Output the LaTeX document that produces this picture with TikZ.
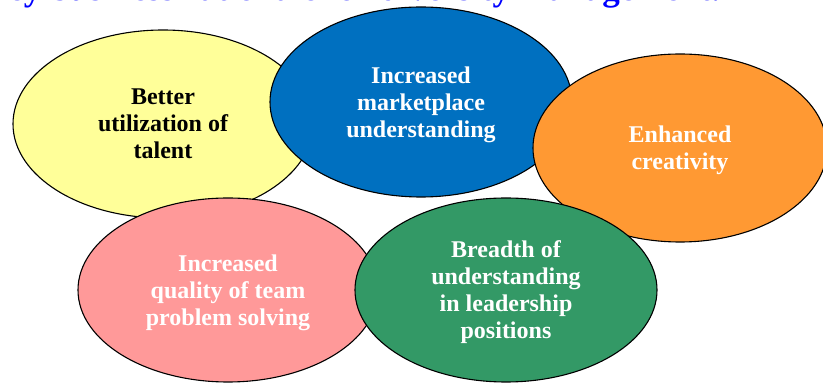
\documentclass[tikz,border=0pt]{standalone}
\usepackage{fontspec}
\setmainfont{Liberation Serif}
\usetikzlibrary{shapes}
\definecolor{ideayellow}{HTML}{FFFF99}
\definecolor{ideablue}{HTML}{0070C0}
\definecolor{ideaorange}{HTML}{FF9933}
\definecolor{ideapink}{HTML}{FF9999}
\definecolor{ideagreen}{HTML}{339966}
\tikzstyle{idea} = [ellipse, minimum width=300pt, minimum height=188pt, draw=black, line width=1.1pt, text centered, align=center, font=\fontsize{24}{27}\selectfont\bfseries, text=white, text depth=-7pt]
\tikzstyle{heading} = [anchor=base west, inner sep=0pt, text=blue, font=\fontsize{35}{40}\selectfont\bfseries]

\begin{document}
\begin{tikzpicture}[x=1pt, y=1pt, node distance=278pt]
            \useasboundingbox (0,0) rectangle (823,383);

            % Heading (cut off by the page)
            \node (head) [heading] at (-19,382.5) {Key business rationale for diversity management.};

            % Top row
            \node (talent) [idea, fill=ideayellow, text=black] at (163,259) {Better\\utilization of\\talent};
            \node (market) [idea, fill=ideablue, right of=talent, xshift=-20pt, yshift=22pt, minimum width=302pt, minimum height=190pt] {Increased\\marketplace\\understanding};
            \node (creat) [idea, fill=ideaorange, right of=market, xshift=-19pt, yshift=-46pt, minimum width=294pt] {Enhanced\\creativity};

            % Bottom row
            \node (team) [idea, fill=ideapink, below of=talent, xshift=65pt, yshift=112pt, minimum height=184pt] {Increased\\quality of team\\problem solving};
            \node (lead) [idea, fill=ideagreen, right of=team, minimum width=302pt, minimum height=184pt] {Breadth of\\understanding\\in leadership\\positions};
        \end{tikzpicture}
\end{document}
